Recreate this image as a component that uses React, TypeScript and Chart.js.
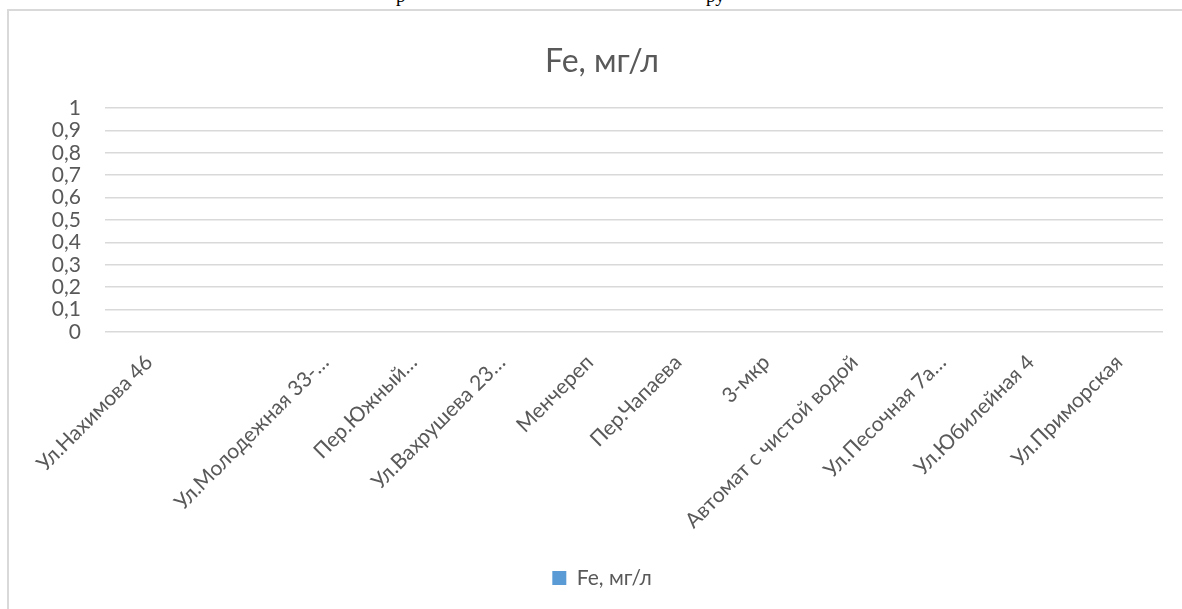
import React, { useEffect, useRef } from "react";
import { Chart, registerables } from "chart.js";

Chart.register(...registerables);

// Sampling points (some names are shortened in the worksheet; the second row has no name)
const categories: string[] = [
  "Ул.Нахимова 46",
  "",
  "Ул.Молодежная 33-…",
  "Пер.Южный…",
  "Ул.Вахрушева 23…",
  "Менчереп",
  "Пер.Чапаева",
  "3-мкр",
  "Автомат с чистой водой",
  "Ул.Песочная 7а…",
  "Ул.Юбилейная 4",
  "Ул.Приморская",
];

// Iron content, mg/l — no measurements entered yet
const feValues: (number | null)[] = [
  null, null, null, null, null, null, null, null, null, null, null, null,
];

const seriesName = "Fe, мг/л";
const yMin = 0;
const yMax = 1;
const yStep = 0.1;

const TEXT = "#595959";
const GRID = "#d9d9d9";
const BAR = "#5b9bd5";
const FONT = "Lato, 'Open Sans', sans-serif";

const W = 1182;
const H = 609;
const PLOT_LEFT = 105;
const PLOT_RIGHT = 1163;
const PLOT_TOP = 108;
const PLOT_BOTTOM = 332;
const PAD_LEFT = 41;
const TITLE_CENTER = 62;
const TITLE_SIZE = 32;
const AXIS_SIZE = 21;
const LEGEND_SIZE = 21;
const LEGEND_CENTER = 578;
const LEGEND_PAD = 10;

const titleLine = TITLE_SIZE * 1.2;
const titlePadTop = TITLE_CENTER - titleLine / 2;
const titlePadBottom = PLOT_TOP - titlePadTop - titleLine;
const legendHeight = LEGEND_SIZE + 2 * LEGEND_PAD;
const PAD_BOTTOM = H - (LEGEND_CENTER - LEGEND_PAD - LEGEND_SIZE / 2) - legendHeight;

function formatTick(v: number): string {
  const r = Math.round(v * 10) / 10;
  if (r === 0 || r === 1) return String(r);
  return r.toFixed(1).replace(".", ",");
}

export default function App() {
  const canvasRef = useRef<HTMLCanvasElement | null>(null);

  useEffect(() => {
    const prevMargin = document.body.style.margin;
    document.body.style.margin = "0";
    const canvas = canvasRef.current;
    if (!canvas) return;
    const chart = new Chart(canvas, {
      type: "bar",
      data: {
        labels: categories,
        datasets: [
          {
            label: seriesName,
            data: feValues,
            backgroundColor: BAR,
            borderWidth: 0,
          },
        ],
      },
      options: {
        animation: false,
        responsive: false,
        devicePixelRatio: 1,
        layout: {
          padding: { left: PAD_LEFT, right: W - PLOT_RIGHT, top: 0, bottom: PAD_BOTTOM },
        },
        plugins: {
          title: {
            display: true,
            text: seriesName,
            color: TEXT,
            font: { family: FONT, size: TITLE_SIZE, weight: "normal", lineHeight: 1.2 },
            padding: { top: titlePadTop, bottom: titlePadBottom },
          },
          legend: {
            display: true,
            position: "bottom",
            labels: {
              color: TEXT,
              font: { family: FONT, size: LEGEND_SIZE },
              boxWidth: 14,
              boxHeight: 14,
              padding: LEGEND_PAD,
            },
          },
          tooltip: { enabled: false },
        },
        scales: {
          x: {
            grid: { display: false, drawTicks: false },
            border: { display: false },
            ticks: {
              color: TEXT,
              font: { family: FONT, size: AXIS_SIZE },
              autoSkip: false,
              minRotation: 45,
              maxRotation: 45,
              padding: 18,
            },
            afterFit: (scale: any) => {
              const lg = scale.chart.legend;
              const lh = lg ? lg.height : 0;
              scale.height = scale.chart.height - PAD_BOTTOM - lh - PLOT_BOTTOM;
            },
          },
          y: {
            min: yMin,
            max: yMax,
            grid: { color: GRID, lineWidth: 1.5, drawTicks: false },
            border: { display: false },
            ticks: {
              stepSize: yStep,
              autoSkip: false,
              color: TEXT,
              font: { family: FONT, size: AXIS_SIZE },
              padding: 24,
              callback: (v: any) => formatTick(Number(v)),
            },
            afterFit: (scale: any) => {
              scale.width = PLOT_LEFT - PAD_LEFT;
            },
          },
        },
      },
    });
    return () => {
      chart.destroy();
      document.body.style.margin = prevMargin;
    };
  }, []);

  return (
    <div
      style={{
        position: "fixed",
        left: 0,
        top: 0,
        width: W,
        height: H,
        overflow: "hidden",
        background: "#fff",
      }}
    >
      {/* tail of the document line above the chart */}
      <div
        style={{
          position: "absolute",
          left: 0,
          top: 0,
          width: W,
          height: 9,
          overflow: "hidden",
          fontFamily: "'Liberation Serif', 'Times New Roman', serif",
          fontSize: 19,
          lineHeight: "19px",
          color: "#000",
        }}
      >
        <span style={{ position: "absolute", left: 396, top: -14 }}>р</span>
        <span style={{ position: "absolute", left: 706, top: -14 }}>ру</span>
      </div>
      <div
        style={{
          position: "absolute",
          left: 7,
          top: 9,
          width: 1200,
          height: 640,
          border: `2px solid ${GRID}`,
          boxSizing: "border-box",
        }}
      />
      <canvas
        ref={canvasRef}
        width={W}
        height={H}
        style={{ position: "absolute", left: 0, top: 0, width: W, height: H }}
      />
    </div>
  );
}
